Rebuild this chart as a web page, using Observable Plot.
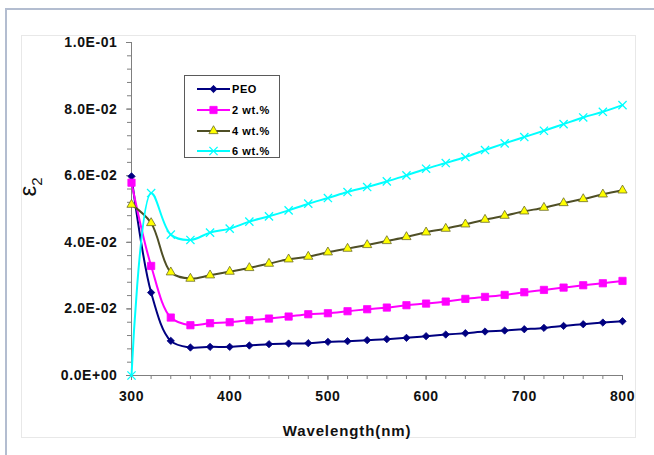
<!DOCTYPE html>
<html>
<head>
<meta charset="utf-8">
<script src="https://cdn.jsdelivr.net/npm/d3@7"></script>
<script src="https://cdn.jsdelivr.net/npm/@observablehq/plot@0.6"></script>
<style>
  html, body { margin: 0; padding: 0; background: #ffffff; }
  #wrap { position: relative; width: 654px; height: 455px; overflow: hidden; font-family: "Liberation Sans", Arial, sans-serif; }
  .edge-top { position: absolute; left: 5px; top: 8px; width: 649px; height: 2px; background: #b3bdd0; }
  .edge-left { position: absolute; left: 5px; top: 8px; width: 2px; height: 447px; background: #b3bdd0; }
  .panel { position: absolute; left: 21px; top: 35px; width: 615px; height: 403px; border: 1px solid #e8e8e8; box-sizing: border-box; }
  #chart { position: absolute; left: 0; top: 0; }
  .legend { position: absolute; left: 184px; top: 75px; width: 96px; height: 83px; box-sizing: border-box;
            border: 1px solid #5a5a5a; background: #ffffff; }
  .legend .row { position: absolute; left: 12px; height: 14px; display: flex; align-items: center; }
  .legend svg { display: block; }
  .legend span { font-weight: bold; font-size: 11px; letter-spacing: 0.6px; margin-left: 1px; color: #000; }
</style>
</head>
<body>
<div id="wrap">
  <div class="edge-top"></div>
  <div class="edge-left"></div>
  <div class="panel"></div>
  <div id="chart"></div>
  <div class="legend" id="legend"></div>
</div>
<script>
// Imaginary part of the dielectric constant versus wavelength for PEO films
const wavelengths = [300, 320, 340, 360, 380, 400, 420, 440, 460, 480, 500, 520, 540,
                     560, 580, 600, 620, 640, 660, 680, 700, 720, 740, 760, 780, 800];
const peo = [0.0598, 0.0249, 0.0104, 0.0084, 0.0086, 0.0086, 0.0090, 0.0094, 0.0096, 0.0097, 0.0101, 0.0103, 0.0106,
             0.0109, 0.0113, 0.0118, 0.0123, 0.0127, 0.0132, 0.0135, 0.0139, 0.0143, 0.0149, 0.0154, 0.0159, 0.0163];
const wt2 = [0.0579, 0.0329, 0.0174, 0.0151, 0.0157, 0.0160, 0.0166, 0.0171, 0.0177, 0.0184, 0.0187, 0.0193, 0.0199,
             0.0204, 0.0211, 0.0216, 0.0222, 0.0230, 0.0236, 0.0242, 0.0250, 0.0257, 0.0264, 0.0271, 0.0277, 0.0284];
const wt4 = [0.0513, 0.0458, 0.0310, 0.0291, 0.0301, 0.0312, 0.0323, 0.0336, 0.0349, 0.0357, 0.0370, 0.0381, 0.0392,
             0.0404, 0.0416, 0.0430, 0.0441, 0.0454, 0.0468, 0.0480, 0.0493, 0.0504, 0.0518, 0.0530, 0.0544, 0.0556];
const wt6 = [0.0000, 0.0548, 0.0423, 0.0407, 0.0429, 0.0441, 0.0462, 0.0478, 0.0496, 0.0516, 0.0533, 0.0551, 0.0566,
             0.0583, 0.0601, 0.0621, 0.0638, 0.0656, 0.0677, 0.0697, 0.0716, 0.0735, 0.0755, 0.0775, 0.0792, 0.0812];

const seriesNames = ["PEO", "2 wt.%", "4 wt.%", "6 wt.%"];
const xTicks = [300, 400, 500, 600, 700, 800];
const yTicks = [0, 0.02, 0.04, 0.06, 0.08, 0.1];

// Per-series styling: line colour, marker symbol, marker fill/stroke, marker radius
const styles = [
  {line: "#000080", symbol: "diamond2", fill: "#000080", stroke: "#000080", r: 3.3},
  {line: "#ff00ff", symbol: "square",   fill: "#ff00ff", stroke: "#ff00ff", r: 4.1},
  {line: "#4f4f26", symbol: "triangle", fill: "#ffff00", stroke: "#6b6b2a", r: 3.4},
  {line: "#00ffff", symbol: "times",    fill: "none",    stroke: "#00ffff", r: 3.8}
];

const valueSets = [peo, wt2, wt4, wt6];
const rows = seriesNames.map((name, i) =>
  wavelengths.map((nm, j) => ({series: name, nm, value: valueSets[i][j]})));

// "1.0E-01" style labels
function sci(v) {
  const [m, e] = v.toExponential(1).split("e");
  return m + "E" + e[0] + e.slice(1).padStart(2, "0");
}

const minorX = d3.range(300, 801, 20);
const minorY = d3.range(0, 0.1001, 0.004);

const seriesMarks = rows.flatMap((data, i) => {
  const s = styles[i];
  return [
    Plot.line(data, {x: "nm", y: "value", stroke: s.line, strokeWidth: 2, curve: "catmull-rom"}),
    Plot.dot(data, {x: "nm", y: "value", symbol: s.symbol, r: s.r, fill: s.fill, stroke: s.stroke,
                    strokeWidth: s.symbol === "times" ? 1.3 : 0.8})
  ];
});

const labelFont = {fontWeight: "bold", fontSize: 14, fill: "#111"};

const chart = Plot.plot({
  width: 654,
  height: 455,
  marginLeft: 131,
  marginRight: 32,
  marginTop: 42,
  marginBottom: 80,
  style: {background: "transparent", fontFamily: "'Liberation Sans', Arial, sans-serif", overflow: "visible"},
  x: {domain: [300, 800], label: null},
  y: {domain: [0, 0.1], label: null},
  marks: [
    Plot.axisX(minorX, {tickSize: 4, tickFormat: () => "", stroke: "#7f7f7f", label: null}),
    Plot.axisX(xTicks, {tickSize: 5, tickPadding: 11, tickFormat: d => String(d), stroke: "#7f7f7f",
                        ...labelFont, label: null}),
    Plot.axisY(minorY, {tickSize: 4, tickFormat: () => "", stroke: "#7f7f7f", label: null}),
    Plot.axisY(yTicks, {tickSize: 5, tickPadding: 9, tickFormat: sci, stroke: "#7f7f7f",
                        ...labelFont, label: null}),
    Plot.ruleY([0], {stroke: "#7f7f7f", strokeWidth: 1}),
    Plot.ruleX([300], {stroke: "#7f7f7f", strokeWidth: 1}),
    ...seriesMarks
  ]
});

const svg = d3.select(chart);
svg.selectAll("text").filter(function () { return this.closest("[aria-label='x-axis tick label']") || this.closest("[aria-label='y-axis tick label']"); })
   .style("letter-spacing", "0.6px");

// Axis titles
svg.append("text")
  .attr("x", 347).attr("y", 436)
  .attr("text-anchor", "middle")
  .attr("font-weight", "bold")
  .attr("font-size", 15)
  .attr("letter-spacing", "0.9px")
  .attr("fill", "#111")
  .text("Wavelength(nm)");

const yTitle = svg.append("text")
  .attr("transform", "translate(36,187) rotate(-90)")
  .attr("text-anchor", "middle")
  .attr("fill", "#111");
yTitle.append("tspan").attr("font-size", 24).text("ε");
yTitle.append("tspan").attr("font-size", 15).attr("dy", 6).text("2");

document.getElementById("chart").appendChild(chart);

// Legend
const legend = d3.select("#legend");
const rowTops = [6, 27, 48, 68];
seriesNames.forEach((name, i) => {
  const s = styles[i];
  const row = legend.append("div").attr("class", "row").style("top", rowTops[i] + "px");
  const sw = row.append("svg").attr("width", 34).attr("height", 14);
  sw.append("line").attr("x1", 0).attr("x2", 33).attr("y1", 7).attr("y2", 7)
    .attr("stroke", s.line).attr("stroke-width", 2);
  const symbols = {diamond2: d3.symbolDiamond2, square: d3.symbolSquare, triangle: d3.symbolTriangle, times: d3.symbolTimes};
  const size = Math.PI * s.r * s.r;
  sw.append("path").attr("transform", "translate(16.5,7)")
    .attr("d", d3.symbol(symbols[s.symbol], size)())
    .attr("fill", s.fill).attr("stroke", s.stroke)
    .attr("stroke-width", s.symbol === "times" ? 1.3 : 0.8);
  row.append("span").text(name);
});
</script>
</body>
</html>
